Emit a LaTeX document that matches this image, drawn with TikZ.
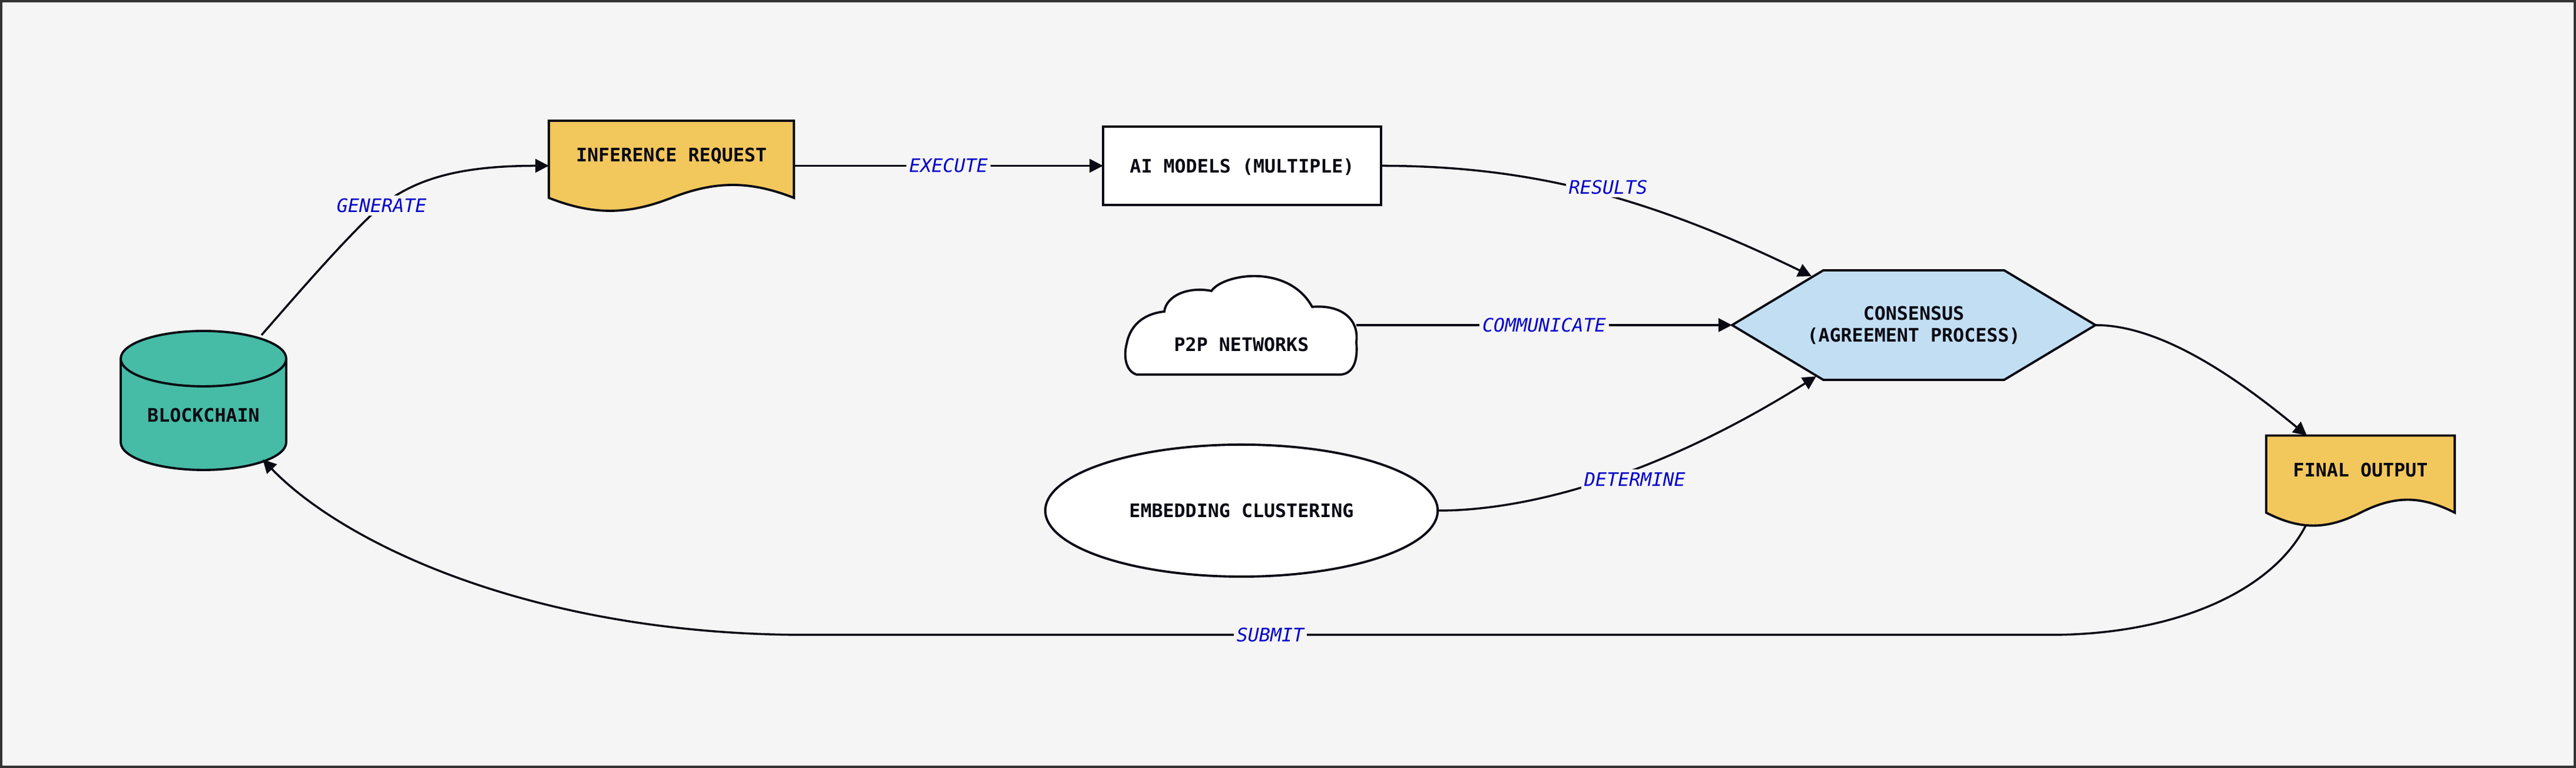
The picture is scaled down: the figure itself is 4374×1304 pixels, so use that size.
\documentclass[tikz,border=0pt]{standalone}
\usepackage{fontspec}
\setmonofont{DejaVu Sans Mono}[BoldFont={DejaVu Sans Mono Bold}, ItalicFont={DejaVu Sans Mono Oblique}, BoldItalicFont={DejaVu Sans Mono Bold Oblique}]
\usetikzlibrary{shapes.geometric, arrows.meta, positioning}
\definecolor{canvasgray}{HTML}{F5F5F5}
\definecolor{framegray}{HTML}{333333}
\definecolor{chainteal}{HTML}{46BBA5}
\definecolor{docyellow}{HTML}{F2C75C}
\definecolor{consblue}{HTML}{C2DEF2}
\definecolor{lblblue}{HTML}{0000CC}
\definecolor{inkblack}{HTML}{0A0A14}
\pgfdeclarelayer{back}
\pgfsetlayers{back,main}
\tikzset{
    shape line/.style = {draw=inkblack, line width=1.1pt},
    node text/.style = {font=\ttfamily\bfseries\fontsize{9pt}{10.5pt}\selectfont, text=inkblack, inner sep=0pt, outer sep=0pt, text height=6.56pt, text depth=0pt},
    chain box/.style = {node text, minimum width=2.81cm, minimum height=2.36cm, text height=20.8pt},
    doc box/.style = {node text, minimum width={2*#1}, minimum height=1.53cm, text depth=10.5pt},
    cloud box/.style = {node text, minimum width=3.9cm, minimum height=1.68cm, text height=25.3pt},
    hex box/.style = {node text, text height=, text depth=, align=center, minimum width=6.17cm, minimum height=1.86cm},
    model box/.style = {node text, rectangle, shape line, fill=white, minimum width=4.72cm, minimum height=1.33cm},
    blob box/.style = {node text, ellipse, shape line, fill=white, minimum width=6.66cm, minimum height=2.24cm},
    chain shape/.pic = {
        \filldraw[shape line, fill=chainteal] (-140.5,71) -- (-140.5,-71) arc[start angle=180, end angle=360, x radius=140.5, y radius=47] -- (140.5,71) arc[start angle=0, end angle=180, x radius=140.5, y radius=47] -- cycle;
        \draw[shape line] (-140.5,71) arc[start angle=180, end angle=360, x radius=140.5, y radius=47];
    },
    doc shape/.pic = {
        \filldraw[shape line, fill=docyellow] (-1,76.5) -- (1,76.5) -- (1,-54.5) .. controls (0.64,-25.2) and (0.36,-25.2) .. (0,-54.5) .. controls (-0.36,-83.8) and (-0.64,-83.8) .. (-1,-54.5) -- cycle;
    },
    cloud shape/.pic = {
        \filldraw[shape line, fill=white] (-178,-84) .. controls (-198,-78) and (-200,-50) .. (-195,-32)
            .. controls (-188,5) and (-160,20) .. (-131,23)
            .. controls (-128,50) and (-90,66) .. (-51,58)
            .. controls (-30,88) and (80,104) .. (120,31)
            .. controls (170,35) and (200,10) .. (195,-29)
            .. controls (198,-60) and (190,-82) .. (169,-84) -- cycle;
    },
    hex shape/.pic = {
        \filldraw[shape line, fill=consblue] (-308.5,0) -- (-153.5,93) -- (153.5,93) -- (308.5,0) -- (153.5,-93) -- (-153.5,-93) -- cycle;
    },
    flow/.style = {draw=inkblack, line width=1pt, -{Triangle[length=6.5pt, width=6.5pt]}},
    edge label/.style = {font=\ttfamily\itshape\fontsize{9pt}{10.5pt}\selectfont, text=lblblue, fill=canvasgray, inner sep=1.5pt}
}
\begin{document}
\begin{tikzpicture}[x=0.01cm, y=0.01cm]
    \useasboundingbox (0,0) rectangle (4374,1304);
    \begin{pgfonlayer}{back}
        \filldraw[fill=canvasgray, draw=framegray, line width=0.04cm] (2,2) rectangle (4372,1302);
    \end{pgfonlayer}

    \node[chain box] (chain) at (345.5,624) {BLOCKCHAIN};
    \node[doc box=2.08cm] (req) at (1140,1022.5) {INFERENCE REQUEST};
    \node[model box] (models) at (2109,1022.5) {AI MODELS (MULTIPLE)};
    \node[cloud box] (p2p) at (2108,752) {P2P NETWORKS};
    \node[hex box] (cons) at (3249.5,752) {CONSENSUS\\(AGREEMENT PROCESS)};
    \node[blob box] (embed) at (2108,437) {EMBEDDING CLUSTERING};
    \node[doc box=1.6cm] (final) at (4008,488) {FINAL OUTPUT};

    \begin{pgfonlayer}{back}
        \pic at (chain.center) {chain shape};
        \pic[x=2.08cm] at (req.center) {doc shape};
        \pic at (p2p.center) {cloud shape};
        \pic at (cons.center) {hex shape};
        \pic[x=1.6cm] at (final.center) {doc shape};
    \end{pgfonlayer}

    \draw[flow] ([xshift=0.985cm, yshift=-0.07cm]chain.north) .. controls (500,799) and (590,904) .. (648,955) node[edge label] {GENERATE}
        .. controls (710,1004) and (790,1022.5) .. (req.west);
    \draw[flow] (req.east) -- node[edge label] {EXECUTE} (models.west);
    \draw[flow] (models.east) .. controls (2600,1022.5) and (2800,969) .. node[edge label, pos=0.54, yshift=0.15cm] {RESULTS} ([xshift=1.35cm, yshift=-0.1cm]cons.north west);
    \draw[flow] (p2p.east) -- node[edge label] {COMMUNICATE} (cons.west);
    \draw[flow] (embed.east) .. controls (2600,437) and (2820,499) .. node[edge label, pos=0.58, yshift=-0.18cm] {DETERMINE} ([xshift=1.43cm, yshift=0.06cm]cons.south west);
    \draw[flow] (cons.east) .. controls (3680,752) and (3820,644) .. ([xshift=-0.91cm]final.north);
    \draw[flow] ([xshift=-0.93cm]final.south) .. controls (3860,304) and (3700,226) .. (3480,226)
        -- node[edge label, pos=0.627] {SUBMIT} (1370,226)
        .. controls (900,226) and (580,384) .. ([xshift=-0.4cm, yshift=0.18cm]chain.south east);
\end{tikzpicture}
\end{document}
